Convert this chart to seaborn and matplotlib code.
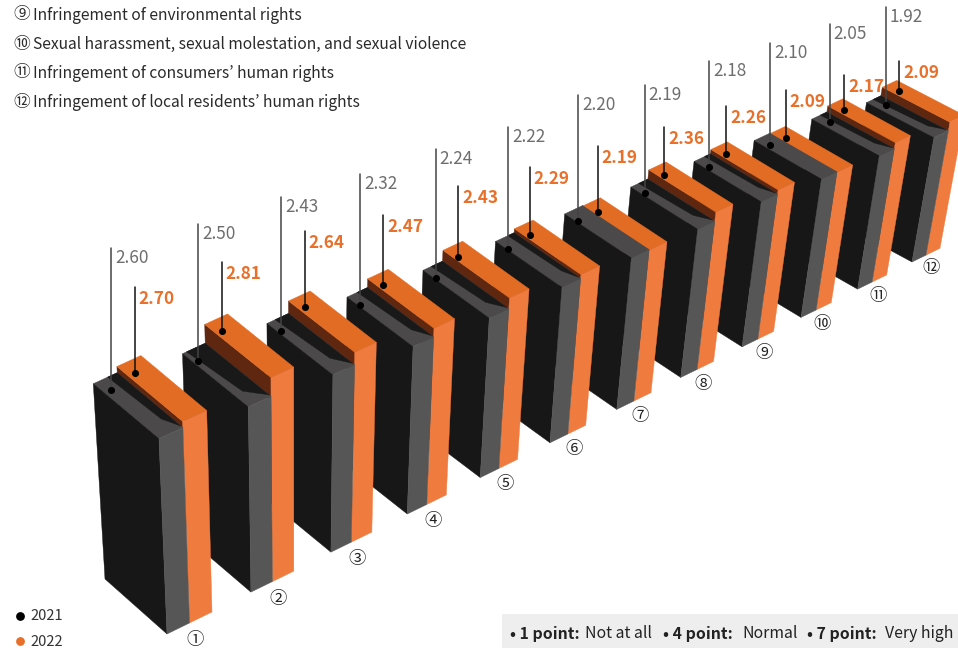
import matplotlib
matplotlib.use("Agg")
import matplotlib.pyplot as plt
from matplotlib.patches import Polygon, Rectangle
import pandas as pd
import seaborn as sns

sns.set_theme(style="white")
plt.rcParams['font.family'] = ['Noto Sans CJK KR', 'DejaVu Sans']

# ---- data ----
markers = list("①②③④⑤⑥⑦⑧⑨⑩⑪⑫")
values_2021 = [2.60, 2.50, 2.43, 2.32, 2.24, 2.22, 2.20, 2.19, 2.18, 2.10, 2.05, 1.92]
values_2022 = [2.70, 2.81, 2.64, 2.47, 2.43, 2.29, 2.19, 2.36, 2.26, 2.09, 2.17, 2.09]
key_marks = ["⑨", "⑩", "⑪", "⑫"]
key_lines = ["Infringement of environmental rights",
             "Sexual harassment, sexual molestation, and sexual violence",
             "Infringement of consumers’ human rights",
             "Infringement of local residents’ human rights"]
years = ["2021", "2022"]

# ---- layout of callouts (not data) ----
rise_2021 = [142, 137, 134, 131, 129, 122, 126, 108, 106, 102, 98, 98]
rise_2022 = [86, 69, 76, 70, 71, 68, 66, 48, 48, 48, 35, 30]

BLACK, GREY, TOPGREY, SHADOW = "#171717", "#565656", "#4b4949", "#191919"
OR_FRONT, OR_TOP, OR_SIDE, OR_TEXT = "#ef7b3f", "#e36c24", "#5f2710", "#e8702a"

K = 0.0245
N = len(values_2021)


def project(i, u, d, v=None):
    """Perspective map: bar index, width unit, depth unit, value -> canvas."""
    s = 1 / (1 + K * i)
    t = i * (1 + (N - 1) * K) / ((N - 1) * (1 + K * i))
    x = 167 + 745 * t + u * 22.5 * s**2 + d * (-62 - 3 * i / (N - 1))
    y = 634 - 372 * t - u * 11 * s**2 + d * (-55 + 20 * i / (N - 1))
    if v is None:
        return x, y
    h = 62 * (v + 0.55) / (1 + 0.021 * i)
    return x + (x - 295) / (3750 - y) * h, y - h


fig = plt.figure(figsize=(9.58, 6.48), dpi=100)
ax = fig.add_axes([0, 0, 1, 1])
ax.set_xlim(0, 958)
ax.set_ylim(648, 0)
ax.axis("off")

z = 2


def face(points, colour):
    global z
    z += 0.01
    ax.add_patch(Polygon(points, closed=True, fc=colour, ec=colour, lw=0.3, zorder=z))


for i in range(N - 1, -1, -1):
    vb, vo = values_2021[i], values_2022[i]
    # orange block
    face([project(i, 1, 0, vo), project(i, 1, 1, vo), project(i, 1, 1, vb), project(i, 1, 0, vb)], OR_SIDE)
    face([project(i, 1, 0, vo), project(i, 1, 1, vo), project(i, 2, 1, vo), project(i, 2, 0, vo)], OR_TOP)
    face([project(i, 1, 0, vo), project(i, 2, 0, vo), project(i, 2, 0), project(i, 1, 0)], OR_FRONT)
    # black block
    face([project(i, 0, 0, vb), project(i, 0, 1, vb), project(i, 1, 1, vb), project(i, 1, 0, vb)], TOPGREY)
    diff = vo - vb
    if diff > 0.02:
        sw = min(0.85, 0.2 + 2 * diff)
        face([project(i, 1 - sw, 1, vb), project(i, 1, 1, vb), project(i, 1, 0.03, vb),
              project(i, 1 - sw * 0.75, 0.22, vb)], SHADOW)
    face([project(i, 0, 0, vb), project(i, 0, 1, vb), project(i, 0, 1), project(i, 0, 0)], BLACK)
    face([project(i, 0, 0, vb), project(i, 1, 0, vb), project(i, 1, 0), project(i, 0, 0)], GREY)
    # circled marker under each bar
    bx, by = project(i, 0, 0)
    ax.text(bx + 28 - 0.8 * i, by + 6.5, markers[i], ha="center", va="center",
            fontsize=12.5, color="#222222", zorder=20)

# callout dots, leaders and labels
rows = []
for i in range(N):
    ub = 0.27 - 0.09 * i + 0.0105 * i**2
    uo = 0.27 - 0.03 * i + 0.0035 * i**2
    bx, by = project(i, ub, 0.83, values_2021[i])
    ox, oy = project(i, 1 + uo, 0.83, values_2022[i])
    rows += [dict(x=bx, y=by, year=years[0]), dict(x=ox, y=oy, year=years[1])]
    ax.plot([bx, bx], [by, by - rise_2021[i]], color="#444444", lw=1.1, zorder=15)
    ax.plot([ox, ox], [oy, oy - rise_2022[i]], color="#111111", lw=1.1, zorder=15)
    ax.text(bx + 4, by - rise_2021[i] + 10, f"{values_2021[i]:.2f}", color="#6e6e6e",
            fontsize=12.4, fontweight="light", va="center", ha="left", zorder=16)
    ax.text(ox + 4, oy - rise_2022[i] + 12, f"{values_2022[i]:.2f}", color=OR_TEXT,
            fontsize=12.4, fontweight="bold", va="center", ha="left", zorder=16)

dots = pd.DataFrame(rows)
sns.scatterplot(data=dots, x="x", y="y", color="black", s=26, linewidth=0, ax=ax,
                legend=False, zorder=17)
ax.set_xlim(0, 958)
ax.set_ylim(648, 0)
ax.axis("off")

# key at top-left
for k, (mark, line) in enumerate(zip(key_marks, key_lines)):
    ax.text(13, 15 + 29 * k, mark, fontsize=12, color="#2a2a2a", va="center", ha="left", zorder=20)
    ax.text(33, 15.5 + 29 * k, line, fontsize=11.25, color="#2a2a2a", va="center", ha="left", zorder=20)

# year legend
for k, (yr, col) in enumerate(zip(years, ["black", OR_TEXT])):
    ypos = 616 + 25 * k
    ax.scatter([20], [ypos], s=40, color=col, linewidth=0, zorder=20)
    ax.text(30, ypos + 0.5, yr, fontsize=10.6, color="#333333", va="center", ha="left", zorder=20)

# scale note
ax.add_patch(Rectangle((502, 614), 456, 34, fc="#eeeeee", ec="none", zorder=1))
for x0, txt, wt in [(510, "• 1 point:", "bold"), (585, "Not at all", "normal"),
                    (663, "• 4 point:", "bold"), (742, "Normal", "normal"),
                    (807, "• 7 point:", "bold"), (885, "Very high", "normal")]:
    ax.text(x0, 634, txt, fontsize=11.4, fontweight=wt, color="#222222", va="center", ha="left", zorder=20)

fig.savefig("out.png", dpi=100)
